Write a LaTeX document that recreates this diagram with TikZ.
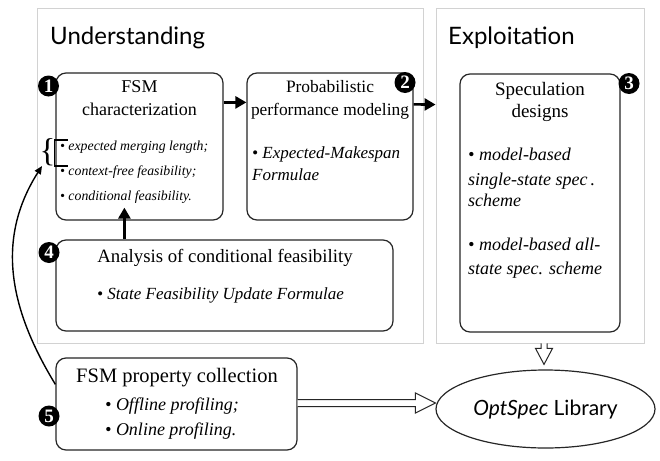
\documentclass[tikz,border=0pt]{standalone}
\usepackage{fontspec}
\setmainfont{Liberation Serif}[ItalicFont={Liberation Serif Italic}, BoldFont={Liberation Serif Bold}]
\newfontfamily\titlefont{Lato}
\usetikzlibrary{arrows.meta,calc,shapes.geometric}
\begin{document}
\begin{tikzpicture}[x=1pt,y=-1pt,
 fbox/.style={draw=black!85, line width=1.2pt, rounded corners=10pt, inner sep=0},
 ttl/.style={font=\titlefont\fontsize{24}{24}\selectfont, anchor=base west, inner sep=0},
 hd/.style={font=\fontsize{18}{18}\selectfont, anchor=base, inner sep=0},
 itx/.style={font=\itshape\fontsize{17}{17}\selectfont, anchor=base west, inner sep=0},
 itsmall/.style={font=\itshape\fontsize{13.8}{13.8}\selectfont, anchor=base west, inner sep=0},
 num/.style={circle, fill=black, inner sep=0, minimum size=21pt, text=white, font=\bfseries\fontsize{19}{19}\selectfont},
 bigarrow/.style={line width=2.6pt, -{Triangle[length=11pt,width=12pt]}},
 hollow/.style={draw=black!85, line width=1pt, fill=white, line join=miter},
]
\useasboundingbox[fill=white] (0,0) rectangle (660,460);
% panels
\node[draw=gray!35, line width=0.9pt, minimum width=386pt, minimum height=335pt, inner sep=0] (U) at (230,175.5) {};
\node[draw=gray!35, line width=0.9pt, minimum width=208pt, minimum height=335pt, inner sep=0] (E) at (540,175.5) {};
\node[ttl] (tU) at (50,45) {Understanding};
\node[ttl] (tE) at (448,45) {Exploitation};
% boxes
\node[fbox, minimum width=167pt, minimum height=147pt] (b1) at (139.5,146.5) {};
\node[fbox, minimum width=166pt, minimum height=147pt] (b2) at (330,146.5) {};
\node[fbox, minimum width=160pt, minimum height=258pt] (b3) at (540,203) {};
\node[fbox, minimum width=337pt, minimum height=91pt] (b4) at (224.5,285.5) {};
\node[fbox, minimum width=241pt, minimum height=92pt] (b5) at (176.5,404) {};
\node[draw=black!85, line width=1.2pt, ellipse, minimum width=219pt, minimum height=78pt, inner sep=0] (ell) at (545.5,409) {};
% box 1
\node[hd] (b1a) at (139.5,92) {FSM};
\node[hd] (b1b) at (139.5,115) {characterization};
\node[itsmall] (b1c) at (60,150) {\textbullet\ expected merging length;};
\node[itsmall] (b1d) at (60,175) {\textbullet\ context-free feasibility;};
\node[itsmall] (b1e) at (60,200) {\textbullet\ conditional feasibility.};
% box 2
\node[hd, font=\fontsize{17.4}{17.4}\selectfont] (b2a) at (330,92) {Probabilistic};
\node[hd, font=\fontsize{17.4}{17.4}\selectfont] (b2b) at (330,115) {performance modeling};
\node[itx] (b2c) at (252,158) {\textbullet\ Expected-Makespan};
\node[itx] (b2d) at (252,180) {Formulae};
% box 3
\node[hd, font=\fontsize{19}{19}\selectfont] (b3a) at (540,95) {Speculation};
\node[hd, font=\fontsize{19}{19}\selectfont] (b3b) at (540,117) {designs};
\node[itx, font=\itshape\fontsize{18}{18}\selectfont] (b3c) at (468,160) {\textbullet\ model-based};
\node[itx, font=\itshape\fontsize{18}{18}\selectfont] (b3d) at (468,185) {single-state spec\,.};
\node[itx, font=\itshape\fontsize{18}{18}\selectfont] (b3e) at (468,206) {scheme};
\node[itx, font=\itshape\fontsize{18}{18}\selectfont] (b3f) at (468,250) {\textbullet\ model-based all-};
\node[itx, font=\itshape\fontsize{18}{18}\selectfont] (b3g) at (468,274) {state spec. scheme};
% box 4
\node[hd, font=\fontsize{18.8}{18.8}\selectfont] (b4a) at (225,262) {Analysis of conditional feasibility};
\node[itx] (b4b) at (97,299) {\textbullet\ State Feasibility Update Formulae};
% box 5
\node[hd, font=\fontsize{20.5}{20.5}\selectfont] (b5a) at (177,382) {FSM property collection};
\node[itx, font=\itshape\fontsize{18}{18}\selectfont] (b5b) at (105,410) {\textbullet\ Offline profiling;};
\node[itx, font=\itshape\fontsize{18}{18}\selectfont] (b5c) at (105,435) {\textbullet\ Online profiling.};
% ellipse text
\node[font=\titlefont\fontsize{21}{21}\selectfont, anchor=base, inner sep=0] (lib) at (545.5,415) {\textit{OptSpec} Library};
% numbers
\node[num] (n1) at (48.5,86) {1};
\node[num] (n2) at (405,82.5) {2};
\node[num] (n3) at (629,83.5) {3};
\node[num] (n4) at (49,252.5) {4};
\node[num] (n5) at (49,416) {5};
% brace
\node[font=\fontsize{33}{33}\selectfont, inner sep=0] (brace) at (47.5,152) {\{};
\draw[line width=1.8pt] (68,140) -- (54.5,140) -- (54.5,166) -- (68,166);
% arrows
\draw[bigarrow] ($(b1.north east)+(0,30)$) -- ($(b2.north west)+(0,30)$);
\draw[bigarrow] ($(b2.north east)+(0,32)$) -- ($(E.north west)+(0,97)$);
\draw[bigarrow] ($(b4.north west)+(69,0)$) -- ($(b1.south west)+(69,-13)$);
\coordinate (brtip) at (42,166);
\draw[line width=1.4pt, -{Triangle[length=8pt,width=7pt]}] ($(b5.north west)+(0,27)$) .. controls (10,310) and (-5,240) .. (brtip);
% hollow arrows
\coordinate (hs) at ($(b5.east)+(0,-1)$);
\coordinate (ht) at (ell.west |- hs);
\draw[hollow] ($(hs)+(0,-3.5)$) -- ($(ht)+(-20,-3.5)$) -- ($(ht)+(-20,-10)$) -- (ht) -- ($(ht)+(-20,10)$) -- ($(ht)+(-20,3.5)$) -- ($(hs)+(0,3.5)$);
\coordinate (vs) at ($(E.south)+(4,0)$);
\coordinate (vt) at ($(ell.north -| vs)+(0,-5)$);
\draw[hollow] ($(vs)+(-3,0)$) -- ($(vt)+(-3,-16)$) -- ($(vt)+(-8.5,-16)$) -- (vt) -- ($(vt)+(8.5,-16)$) -- ($(vt)+(3,-16)$) -- ($(vs)+(3,0)$);
\end{tikzpicture}
\end{document}
